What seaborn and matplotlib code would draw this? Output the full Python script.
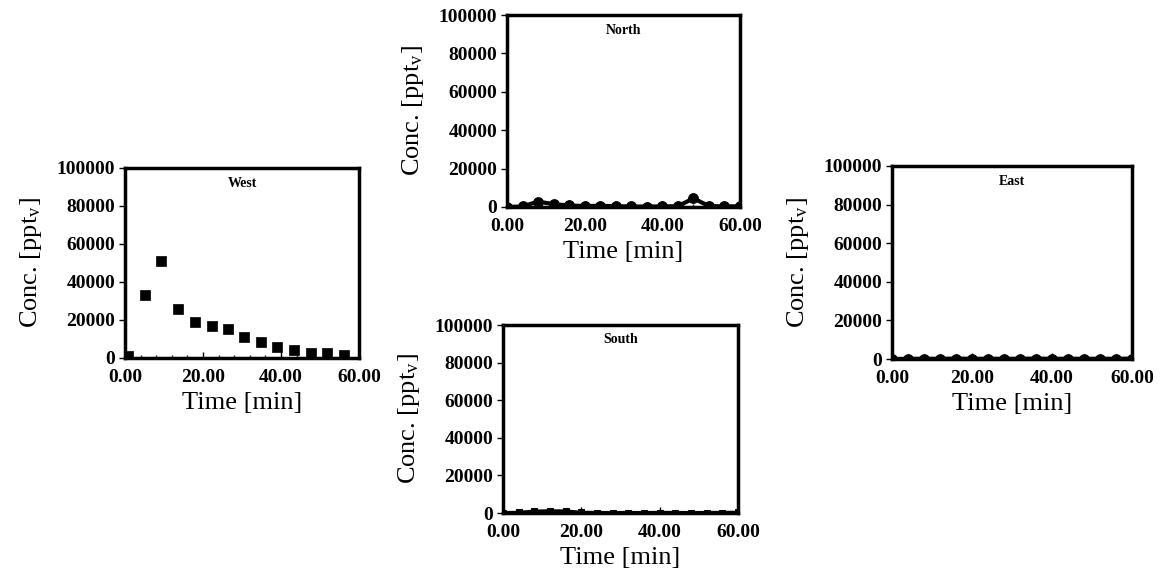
import numpy as np
import pandas as pd
import matplotlib
matplotlib.use("Agg")
import matplotlib.pyplot as plt
from matplotlib.ticker import MultipleLocator, FixedLocator, FixedFormatter
import seaborn as sns

# ---- data ----
west_time = [0.8, 5.1, 9.3, 13.6, 17.9, 22.2, 26.4, 30.6, 34.9, 39.1, 43.4, 47.6, 51.9, 56.1]
west_conc = [800, 33000, 51000, 26000, 19000, 17000, 15300, 11200, 8600, 5600, 4200, 2800, 2500, 1800]

grid_time = [0, 4, 8, 12, 16, 20, 24, 28, 32, 36, 40, 44, 48, 52, 56, 60]
north_conc = [0, 300, 2800, 1500, 800, 500, 600, 400, 300, 200, 300, 400, 4500, 500, 300, 400]
south_conc = [100, 300, 900, 1100, 1000, 300, 200, 150, 200, 150, 250, 200, 150, 200, 250, 300]
east_conc = [0, 100, 150, 100, 200, 100, 150, 100, 150, 200, 100, 150, 100, 150, 100, 200]

yticks = [0, 20000, 40000, 60000, 80000, 100000]
ytick_labels = ["0", "20000", "40000", "60000", "80000", "100000"]
xticks = [0, 20, 40, 60]
xtick_labels = ["0.00", "20.00", "40.00", "60.00"]

sns.set_theme(style="white")
plt.rcParams["font.family"] = ["Liberation Serif", "DejaVu Serif"]
plt.rcParams["mathtext.fontset"] = "stix"

fig = plt.figure(figsize=(11.6, 5.84), dpi=100)
W, H = 1160, 584

def add_ax(x0, y0, x1, y1):
    return fig.add_axes([x0 / W, 1 - y1 / H, (x1 - x0) / W, (y1 - y0) / H])

ax_w = add_ax(125, 168, 359, 358)
ax_n = add_ax(507, 15, 740, 207)
ax_s = add_ax(503, 325, 738, 513)
ax_e = add_ax(892, 166, 1132, 359)

# West: squares only
sns.scatterplot(x=west_time, y=west_conc, ax=ax_w, marker="s", s=45,
                color="black", edgecolor="black", linewidth=0.5, legend=False)
# North: line with circles
sns.lineplot(x=grid_time, y=north_conc, ax=ax_n, color="black", linewidth=3,
             marker="o", markersize=7, markeredgecolor="black", legend=False)
# South: line with small squares
sns.lineplot(x=grid_time, y=south_conc, ax=ax_s, color="black", linewidth=2.5,
             marker="s", markersize=5, markeredgecolor="black", legend=False)
# East: line with circles
sns.lineplot(x=grid_time, y=east_conc, ax=ax_e, color="black", linewidth=3,
             marker="o", markersize=7, markeredgecolor="black", legend=False)

for ax, title in [(ax_w, "West"), (ax_n, "North"), (ax_s, "South"), (ax_e, "East")]:
    ax.set_xlim(0, 60)
    ax.set_ylim(0, 100000)
    ax.set_facecolor("white")
    ax.yaxis.set_major_locator(FixedLocator(yticks))
    ax.yaxis.set_major_formatter(FixedFormatter(ytick_labels))
    ax.xaxis.set_major_locator(FixedLocator(xticks))
    ax.xaxis.set_major_formatter(FixedFormatter(xtick_labels))
    ax.xaxis.set_minor_locator(MultipleLocator(4))
    ax.tick_params(axis="y", which="major", direction="out", length=4, width=1,
                   left=True, labelsize=14, pad=3, colors="black")
    ax.tick_params(axis="x", which="major", direction="in", length=4, width=1,
                   bottom=True, labelsize=14, pad=8, colors="black")
    ax.tick_params(axis="x", which="minor", direction="in", length=2.5, width=1,
                   bottom=True)
    for lab in ax.get_xticklabels() + ax.get_yticklabels():
        lab.set_fontweight("bold")
    for sp in ax.spines.values():
        sp.set_visible(True)
        sp.set_color("black")
        sp.set_linewidth(2.5)
    ax.set_xlabel("Time [min]", fontsize=19, color="black", labelpad=4)
    ax.set_ylabel(r"Conc. [ppt$_\mathregular{v}$]", fontsize=19, color="black", labelpad=9)
    ax.text(0.5, 0.955, title, transform=ax.transAxes, ha="center", va="top",
            fontsize=10, fontweight="bold", color="black")
    ax.grid(False)

fig.savefig("out.png", dpi=100, facecolor="white")
